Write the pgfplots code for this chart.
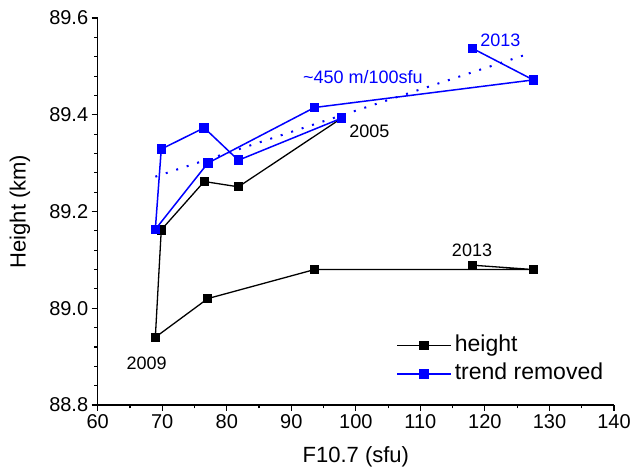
\documentclass[border=0pt]{standalone}
\usepackage{pgfplots}
\pgfplotsset{compat=1.18}
\usepackage{fontspec}
\setmainfont{Liberation Sans}

\begin{document}
\begin{tikzpicture}
\path[use as bounding box] (-97.7bp,-69bp) rectangle (542.3bp,405bp);
\begin{axis}[
  at={(0,0)}, anchor=south west,
  width=516.3bp, height=387bp, scale only axis,
  xmin=60, xmax=140, ymin=88.8, ymax=89.6,
  axis x line*=bottom, axis y line*=left,
  x axis line style={-}, y axis line style={-},
  axis line style={line width=1.2bp},
  tick align=outside,
  xtick={60,70,80,90,100,110,120,130,140},
  ytick={88.8,89.0,89.2,89.4,89.6},
  minor x tick num=1, minor y tick num=4,
  major tick length=6bp, minor tick length=3.5bp,
  every tick/.style={black, line width=1.1bp},
  /pgf/number format/assume math mode=true,
  ticklabel style={font=\fontsize{20bp}{24bp}\selectfont},
  yticklabel style={/pgf/number format/.cd, fixed, fixed zerofill, precision=1},
  xlabel={F10.7 (sfu)}, ylabel={Height (km)},
  label style={font=\fontsize{22bp}{26bp}\selectfont},
  xlabel style={at={(axis description cs:0.5,-0.1344)}, anchor=center},
  ylabel style={at={(axis description cs:-0.1505,0.5)}, anchor=center},
  clip=false,
  legend cell align=left,
  legend image code/.code={\draw[mark repeat=2, mark phase=2] plot coordinates {(0bp,0bp) (27bp,0bp) (54bp,0bp)};},
  legend style={at={(axis description cs:0.578,0.1905)}, anchor=north west,
    draw=none, fill=none, inner sep=0pt,
    font=\fontsize{23bp}{27bp}\selectfont,
    nodes={inner sep=3bp, text height=17bp, text depth=5.5bp}},
]
\addplot[blue, line width=2bp, dash pattern=on 2bp off 9bp, forget plot]
  coordinates {(68.93,89.272) (127.2,89.528)};
\addplot[black, line width=1.3bp, mark=square*, mark size=4bp]
  coordinates {(97.8,89.393) (81.8,89.251) (76.5,89.262) (69.85,89.162) (68.93,88.940)
               (77.06,89.020) (93.6,89.080) (127.5,89.080) (118.1,89.089)};
\addplot[blue, line width=1.5bp, mark=square*, mark size=4bp]
  coordinates {(97.8,89.393) (81.8,89.306) (76.5,89.373) (69.85,89.329) (68.93,89.163)
               (77.06,89.300) (93.6,89.415) (127.5,89.472) (118.1,89.537)};
\legend{height, trend removed}
\node[blue, font=\fontsize{18bp}{21bp}\selectfont] at (axis cs:101.1,89.477) {\textasciitilde 450 m/100sfu};
\node[blue, font=\fontsize{18bp}{21bp}\selectfont] at (axis cs:122.4,89.553) {2013};
\node[font=\fontsize{18bp}{21bp}\selectfont] at (axis cs:102.1,89.365) {2005};
\node[font=\fontsize{18bp}{21bp}\selectfont] at (axis cs:118.0,89.119) {2013};
\node[font=\fontsize{18bp}{21bp}\selectfont] at (axis cs:67.6,88.887) {2009};
\end{axis}
\end{tikzpicture}
\end{document}
